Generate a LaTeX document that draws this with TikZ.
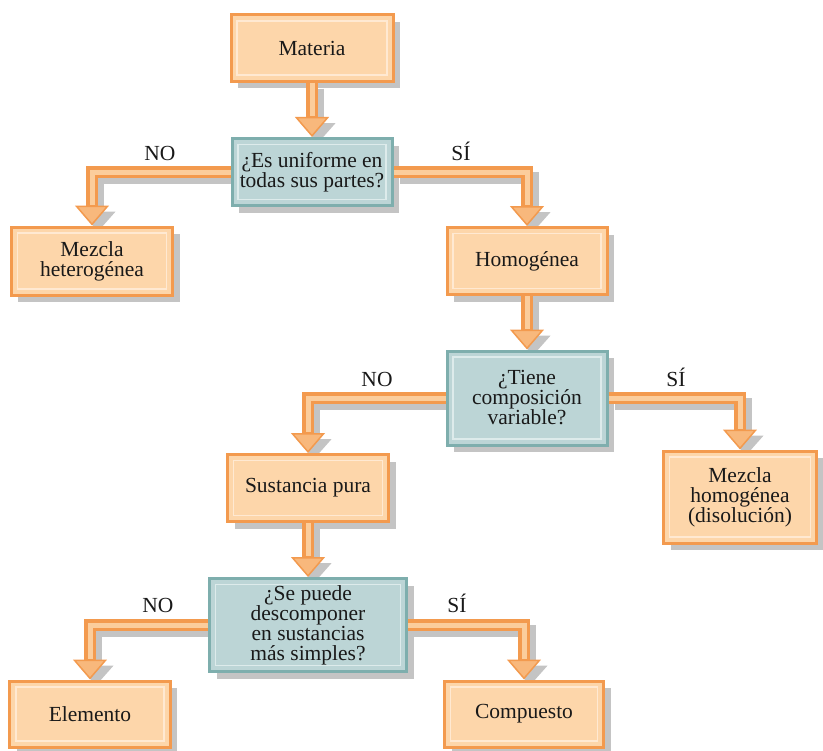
\documentclass[tikz,border=0pt]{standalone}
\usepackage{fontspec}
\setmainfont{Liberation Serif}
\usetikzlibrary{arrows.meta, shadows, backgrounds}

\definecolor{naranja}{HTML}{F39A4E}
\definecolor{durazno}{HTML}{FDD6AA}
\definecolor{claro}{HTML}{FFE9D2}
\definecolor{verdeazul}{HTML}{BCD5D6}
\definecolor{bordeazul}{HTML}{7EAEAD}
\definecolor{claroazul}{HTML}{DDEBEB}
\definecolor{sombra}{HTML}{C4C4C4}

\tikzset{
  marco/.style n args={3}{rectangle, draw=#1, fill=#2, line width=3bp,
    align=center, text=black!90, font=\fontsize{21.5bp}{20bp}\selectfont,
    drop shadow={shadow xshift=7bp, shadow yshift=-7bp, fill=sombra, opacity=1},
    path picture={\draw[#3, line width=1.2bp]
      ([shift={(6bp,6bp)}]path picture bounding box.south west) rectangle
      ([shift={(-6bp,-6bp)}]path picture bounding box.north east);}},
  caja/.style={marco={naranja}{durazno}{claro}},
  pregunta/.style={marco={bordeazul}{verdeazul}{claroazul}},
  etiqueta/.style={anchor=base, text=black!90, font=\fontsize{21.5bp}{20bp}\selectfont},
  flecha/.style={draw=naranja, line width=12bp,
    -{Triangle[width=34bp, length=20bp, line width=1.5bp, fill=durazno!50!naranja]}},
  nucleo/.style={draw=durazno!85!naranja, line width=5bp, shorten >=21bp},
  sombraflecha/.style={draw=sombra, line width=12bp,
    -{Triangle[width=34bp, length=20bp]},
    transform canvas={xshift=6bp, yshift=-6bp}}
}

\begin{document}
\begin{tikzpicture}[x=1bp, y=-1bp]
  \useasboundingbox (0,0) rectangle (823,751);

  % Cajas naranjas
  \node[caja, minimum width=162bp, minimum height=66bp] (materia) at (312,48) {Materia};
  \node[caja, minimum width=161bp, minimum height=68bp] (het) at (92,261) {Mezcla\\heterogénea};
  \node[caja, minimum width=160bp, minimum height=67bp] (hom) at (527,261) {Homogénea};
  \node[caja, minimum width=153bp, minimum height=92bp] (mhom) at (740,497) {Mezcla\\homogénea\\(disolución)};
  \node[caja, minimum width=161bp, minimum height=67bp] (pura) at (308,488) {Sustancia pura};
  \node[caja, minimum width=160bp, minimum height=66bp] (elem) at (90,714) {Elemento};
  \node[caja, minimum width=159bp, minimum height=66bp] (comp) at (524,714) {Compuesto};

  % Preguntas
  \node[pregunta, minimum width=160bp, minimum height=67bp] (q1) at (312,172) {¿Es uniforme en\\todas sus partes?};
  \node[pregunta, minimum width=160bp, minimum height=94bp] (q2) at (527,398) {¿Tiene\\composición\\variable?};
  \node[pregunta, minimum width=197bp, minimum height=93bp] (q3) at (308,625) {¿Se puede\\descomponer\\en sustancias\\más simples?};

  % Flechas verticales
  \foreach \a/\b in {materia/q1, hom/q2, pura/q3} {
    \begin{pgfonlayer}{background}
      \draw[sombraflecha] (\a.south) -- (\b.north);
    \end{pgfonlayer}
    \draw[flecha] (\a.south) -- (\b.north);
    \draw[nucleo] (\a.south) -- (\b.north);
  }

  % Flechas en codo
  \foreach \a/\b in {q1.west/het, q1.east/hom, q2.west/pura, q2.east/mhom, q3.west/elem, q3.east/comp} {
    \begin{pgfonlayer}{background}
      \draw[sombraflecha] (\a) -| (\b.north);
    \end{pgfonlayer}
    \draw[flecha] (\a) -| (\b.north);
    \draw[nucleo] (\a) -| (\b.north);
  }

  % Etiquetas
  \node[etiqueta] (no1) at (160,160) {NO};
  \node[etiqueta] (si1) at (461,160) {SÍ};
  \node[etiqueta] (no2) at (377,386) {NO};
  \node[etiqueta] (si2) at (676,386) {SÍ};
  \node[etiqueta] (no3) at (158,612) {NO};
  \node[etiqueta] (si3) at (457,612) {SÍ};
\end{tikzpicture}
\end{document}
